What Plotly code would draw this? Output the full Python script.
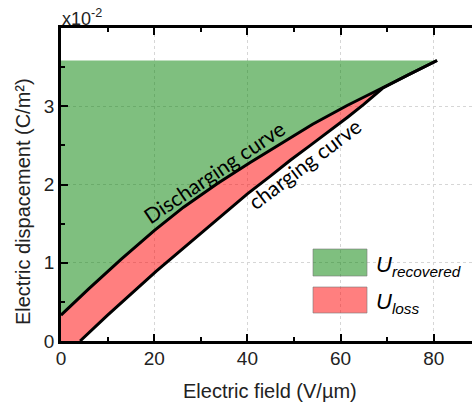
import plotly.graph_objects as go

# Data (D in units of 1e-2 C/m^2, E in V/um)
discharge_E = [0.0, 6.0, 13.0, 20.0, 26.3, 33.5, 40.6, 47.1, 54.0, 61.4, 69.0, 74.5, 80.7]
discharge_D = [0.33, 0.67, 1.05, 1.41, 1.71, 2.01, 2.28, 2.52, 2.77, 3.01, 3.24, 3.40, 3.585]
charge_E = [4.1, 10.0, 20.4, 30.0, 36.3, 40.0, 45.0, 49.2, 53.5, 57.8, 61.5, 64.9, 69.0, 74.5, 80.7]
charge_D = [0.0, 0.33, 0.89, 1.38, 1.70, 1.88, 2.11, 2.31, 2.50, 2.69, 2.86, 3.02, 3.23, 3.40, 3.585]
D_max = 3.585
x_ticks = [0, 20, 40, 60, 80]
y_ticks = [0, 1, 2, 3]

GREEN = "rgba(0,128,0,0.5)"
RED = "rgba(255,0,0,0.5)"

fig = go.Figure()

# Recovered energy region (green)
g_x = [0.0, discharge_E[-1]] + discharge_E[::-1]
g_y = [D_max, D_max] + discharge_D[::-1]
fig.add_trace(go.Scatter(x=g_x, y=g_y, fill="toself", fillcolor=GREEN,
                         mode="none", hoverinfo="skip", showlegend=False))

# Loss region (red)
r_x = discharge_E + charge_E[::-1] + [0.0]
r_y = discharge_D + charge_D[::-1] + [0.0]
fig.add_trace(go.Scatter(x=r_x, y=r_y, fill="toself", fillcolor=RED,
                         mode="none", hoverinfo="skip", showlegend=False))

# Curves
fig.add_trace(go.Scatter(x=discharge_E, y=discharge_D, mode="lines",
                         line=dict(color="black", width=3),
                         hoverinfo="skip", showlegend=False))
fig.add_trace(go.Scatter(x=charge_E, y=charge_D, mode="lines",
                         line=dict(color="black", width=3),
                         hoverinfo="skip", showlegend=False))

axis_font = dict(family="Liberation Sans, Arial", size=19, color="#222")

fig.update_xaxes(range=[0, 88.2], tickvals=x_ticks, ticks="inside", ticklen=7, tickwidth=2,
                 tickcolor="black", showline=True, linecolor="black", linewidth=2.5,
                 mirror="ticks", showgrid=True, gridcolor="#d6d6d6", griddash="dot", gridwidth=1,
                 zeroline=False, tickfont=axis_font, ticklabelstandoff=-2,
                 minor=dict(dtick=10, ticks="inside", ticklen=4, tickwidth=2, tickcolor="black",
                            showgrid=False))
fig.update_yaxes(range=[0, 4], tickvals=y_ticks, ticks="inside", ticklen=7, tickwidth=2,
                 tickcolor="black", showline=True, linecolor="black", linewidth=2.5,
                 mirror=False, showgrid=True, gridcolor="#d6d6d6", griddash="dot", gridwidth=1,
                 zeroline=False, tickfont=axis_font,
                 minor=dict(dtick=0.5, ticks="inside", ticklen=4, tickwidth=2, tickcolor="black",
                            showgrid=False))

title_font = dict(family="Liberation Sans, Arial", size=20, color="#222")
ann = [
    dict(text="Electric field (V/µm)", xref="paper", yref="paper", x=0.5085, y=-0.159,
         xanchor="center", yanchor="middle", showarrow=False, font=title_font),
    dict(text="Electric dispacement (C/m²)", xref="paper", yref="paper", x=-0.0925, y=0.447,
         xanchor="center", yanchor="middle", showarrow=False, textangle=-90, font=title_font),
    dict(text="x10<sup>-2</sup>", xref="paper", yref="paper", x=-0.003, y=1.035,
         xanchor="left", yanchor="middle", showarrow=False,
         font=dict(family="Liberation Sans, Arial", size=18, color="#222")),
    dict(text="Discharging curve", x=32.9, y=2.16, xref="x", yref="y", showarrow=False,
         textangle=-34, font=dict(family="Lato, Carlito, sans-serif", size=21, color="black")),
    dict(text="charging curve", x=52.2, y=2.27, xref="x", yref="y", showarrow=False,
         textangle=-37, font=dict(family="Lato, Carlito, sans-serif", size=21, color="black")),
]

# Legend boxes drawn as shapes (paper coords)
fig_w, fig_h = 472, 405
ml, mr, mt, mb = 61, 0, 28, 64
pw, ph = fig_w - ml - mr, fig_h - mt - mb

def px_to_paper(px, py):
    return (px - ml) / pw, (fig_h - mb - py) / ph

shapes = []
legend_items = [(GREEN, "recovered", 249, 276), (RED, "loss", 287, 313)]
for col, sub, ytop, ybot in legend_items:
    x0, y0 = px_to_paper(313, ybot)
    x1, y1 = px_to_paper(367, ytop)
    shapes.append(dict(type="rect", xref="paper", yref="paper", x0=x0, y0=y0, x1=x1, y1=y1,
                       fillcolor=col, line=dict(color="rgba(120,120,120,0.6)", width=1)))
    lx, ly = px_to_paper(374, (ytop + ybot) / 2 + 3)
    ann.append(dict(text=f"<i>U</i><sub><i>{sub}</i></sub>", xref="paper", yref="paper",
                    x=lx, y=ly, xanchor="left", yanchor="middle", showarrow=False,
                    font=dict(family="Liberation Sans, Arial", size=22, color="black")))

fig.update_layout(width=fig_w, height=fig_h, margin=dict(l=ml, r=mr, t=mt, b=mb),
                  plot_bgcolor="white", paper_bgcolor="white",
                  annotations=ann, shapes=shapes, showlegend=False)

fig.write_html("out.html", config={"displayModeBar": False},
               post_script="document.body.style.margin='0';")
